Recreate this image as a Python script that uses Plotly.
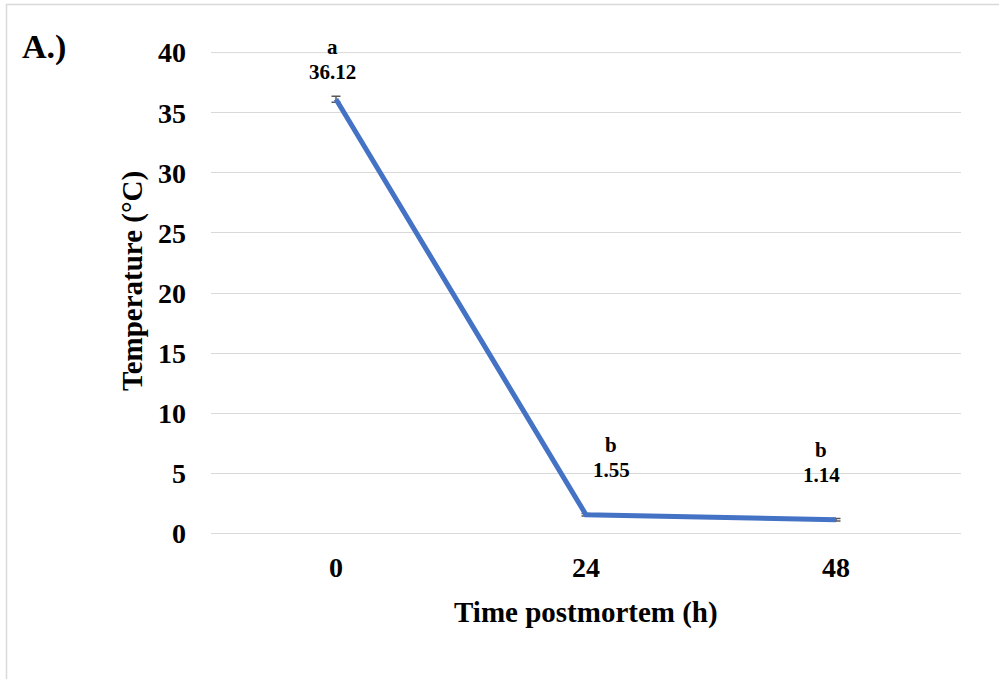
import plotly.graph_objects as go

# ---- data ----
categories = ["0", "24", "48"]
temperature = [36.12, 1.55, 1.14]
errors = [0.25, 0.1, 0.1]
letters = ["a", "b", "b"]
value_labels = ["36.12", "1.55", "1.14"]
y_ticks = [0, 5, 10, 15, 20, 25, 30, 35, 40]

FONT = "Liberation Serif"
L, R, T, B = 211, 38, 52, 145
W, H = 999, 679
PW, PH = W - L - R, H - T - B

fig = go.Figure()
fig.add_trace(go.Scatter(
    x=categories, y=temperature, mode="lines",
    line=dict(color="#4472C4", width=5),
    error_y=dict(type="data", array=errors, visible=True,
                 color="#595959", thickness=1.5, width=4.5),
    showlegend=False, hoverinfo="skip",
))

# data labels: letter above value
xshifts = [-4, 25, -15]
for i, c in enumerate(categories):
    fig.add_annotation(x=i, y=temperature[i], xref="x", yref="y",
                       text="<b>%s</b>" % value_labels[i], showarrow=False,
                       xshift=xshifts[i], yshift=27 if i == 0 else 45,
                       font=dict(family=FONT, size=21, color="black"),
                       xanchor="center", yanchor="middle")
    fig.add_annotation(x=i, y=temperature[i], xref="x", yref="y",
                       text="<b>%s</b>" % letters[i], showarrow=False,
                       xshift=xshifts[i], yshift=52 if i == 0 else 70,
                       font=dict(family=FONT, size=21, color="black"),
                       xanchor="center", yanchor="middle")

def px_x(p):
    return (p - L) / PW

def px_y(p):
    return (H - B - p) / PH

# axis titles
fig.add_annotation(x=px_x(586), y=px_y(612), xref="paper", yref="paper",
                   text="<b>Time postmortem (h)</b>", showarrow=False,
                   font=dict(family=FONT, size=29, color="black"),
                   xanchor="center", yanchor="middle")
fig.add_annotation(x=px_x(132), y=px_y(281), xref="paper", yref="paper",
                   text="<b>Temperature (°C)</b>", showarrow=False, textangle=-90,
                   font=dict(family=FONT, size=29, color="black"),
                   xanchor="center", yanchor="middle")
# panel label
fig.add_annotation(x=px_x(44), y=px_y(47), xref="paper", yref="paper",
                   text="<b>A.)</b>", showarrow=False,
                   font=dict(family=FONT, size=34, color="black"),
                   xanchor="center", yanchor="middle")

# top gridline (at range edge, plotly skips it)
fig.add_shape(type="line", xref="paper", yref="y", x0=0, x1=1,
              y0=y_ticks[-1], y1=y_ticks[-1],
              line=dict(color="#d9d9d9", width=1), layer="below")

# outer border (left/top visible)
fig.add_shape(type="rect", xref="paper", yref="paper",
              x0=px_x(6.5), x1=px_x(1010), y0=px_y(690), y1=px_y(4.5),
              line=dict(color="#d9d9d9", width=1.5), fillcolor="rgba(0,0,0,0)")

fig.update_layout(
    width=W, height=H,
    margin=dict(l=L, r=R, t=T, b=B),
    paper_bgcolor="white", plot_bgcolor="white",
    font=dict(family=FONT, color="black"),
    xaxis=dict(type="category", range=[-0.5, 2.5], showgrid=False,
               zeroline=False, showline=False, ticks="",
               tickfont=dict(family=FONT, size=28, color="black", weight="bold"),
               ticklabelstandoff=14),
    yaxis=dict(range=[-0.05, 40.05], tickvals=y_ticks, showgrid=True,
               gridcolor="#d9d9d9", gridwidth=1, zeroline=True,
               zerolinecolor="#d9d9d9", zerolinewidth=1,
               showline=False, ticks="",
               tickfont=dict(family=FONT, size=28, color="black", weight="bold"),
               ticklabelstandoff=24),
)

fig.write_html("out.html")
